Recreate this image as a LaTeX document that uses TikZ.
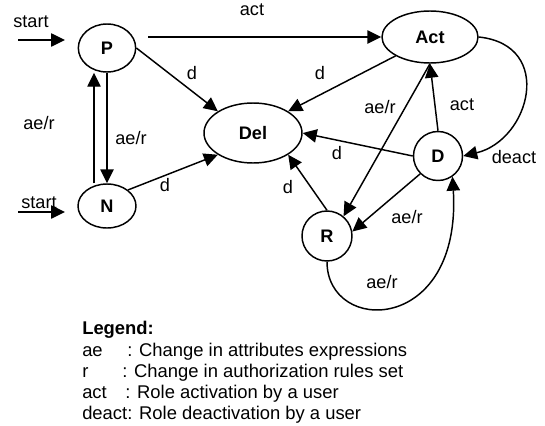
\documentclass[tikz,border=0pt]{standalone}
\usepackage{fontspec}
\setmainfont{Liberation Sans}
\usepackage{tikz}
\usetikzlibrary{arrows.meta, shapes.geometric}
\tikzset{
  state/.style={draw=black, line width=1.1pt, ellipse, inner sep=0pt, font=\fontsize{13.6}{16}\selectfont\bfseries},
  trans/.style={-{Triangle[length=10.5pt, width=10pt]}, line width=1.1pt},
  lbl/.style={inner sep=0pt},
  legfont/.style={font=\fontsize{13.8}{16}\selectfont},
}
\newcommand{\legline}[4]{%
  \node[legfont, anchor=base west, inner sep=0pt] (#2-key) at (82,#1) {\makebox[#3][l]{#2}: #4};}

\begin{document}
\begin{tikzpicture}[x=0.75pt, y=-0.75pt, font=\fontsize{13.6}{16}\selectfont]
    \useasboundingbox (0,0) rectangle (545,425);
    % states
    \node[state, minimum width=43pt, minimum height=36pt] (P) at (107,48) {P};
    \node[state, minimum width=43.5pt, minimum height=33pt] (N) at (107,206) {N};
    \node[state, minimum width=73.5pt, minimum height=45pt] (Del) at (253,133) {Del};
    \node[state, minimum width=72pt, minimum height=39pt] (Act) at (430,37) {Act};
    \node[state, circle, minimum size=36.75pt] (D) at (438,156) {D};
    \node[state, circle, minimum size=37.5pt] (R) at (327,236) {R};
    % start arrows
    \coordinate (startP) at (18,40);
    \coordinate (startP-end) at (65,40);
    \draw[trans] (startP) -- (startP-end);
    \node[lbl] (startP-text) at (31,22) {start};
    \coordinate (startN) at (18,212);
    \coordinate (startN-end) at (65,212);
    \draw[trans] (startN) -- (startN-end);
    \node[lbl] (startN-text) at (39,203) {start};
    % transitions
    \coordinate (actfrom) at (148,37);
    \draw[trans] (actfrom) -- (Act.west);
    \node[lbl] (lbl-act) at (252,10) {act};
    \draw[trans] (P.east) -- (Del.north west);
    \node[lbl] (lbl-pdel) at (192,73) {d};
    \draw[trans] ([xshift=-9.75pt]N.north) -- ([xshift=-9.75pt]P.south);
    \node[lbl] (lbl-np) at (39,123) {ae/r};
    \draw[trans] (P.south) -- (N.north);
    \node[lbl] (lbl-pn) at (131,138) {ae/r};
    \draw[trans] (N.north east) -- (Del.south west);
    \node[lbl] (lbl-ndel) at (165,185) {d};
    \draw[trans] (Act.south west) -- (Del.north east);
    \node[lbl] (lbl-actdel) at (320,73) {d};
    \draw[trans] (Act.south) -- (R.50);
    \node[lbl] (lbl-actr) at (380,107) {ae/r};
    \draw[trans] (D.north) -- (Act.south);
    \node[lbl] (lbl-dact) at (462,105) {act};
    \draw[trans] (D.west) -- (Del.east);
    \node[lbl] (lbl-ddel) at (337,153) {d};
    \draw[trans] (Act.east) .. controls (555,45) and (530,140) .. (D.east);
    \node[lbl] (lbl-deact) at (514,157) {deact};
    \draw[trans] (R.north) -- (Del.south east);
    \node[lbl] (lbl-rdel) at (288,187) {d};
    \draw[trans] (D.south west) -- (R.10);
    \node[lbl] (lbl-dr) at (407,217) {ae/r};
    \draw[trans] (R.south) .. controls (327,335) and (462,335) .. (D.305);
    \node[lbl] (lbl-rd) at (382,282) {ae/r};
    % legend
    \node[anchor=base west, inner sep=0pt, font=\fontsize{13.8}{16}\selectfont\bfseries] (legend) at (82,334) {Legend:};
    \legline{356}{ae}{33.75pt}{Change in attributes expressions}
    \legline{377}{r}{30pt}{Change in authorization rules set}
    \legline{398}{act}{32.25pt}{Role activation by a user}
    \legline{419}{deact}{33.75pt}{Role deactivation by a user}
\end{tikzpicture}
\end{document}
